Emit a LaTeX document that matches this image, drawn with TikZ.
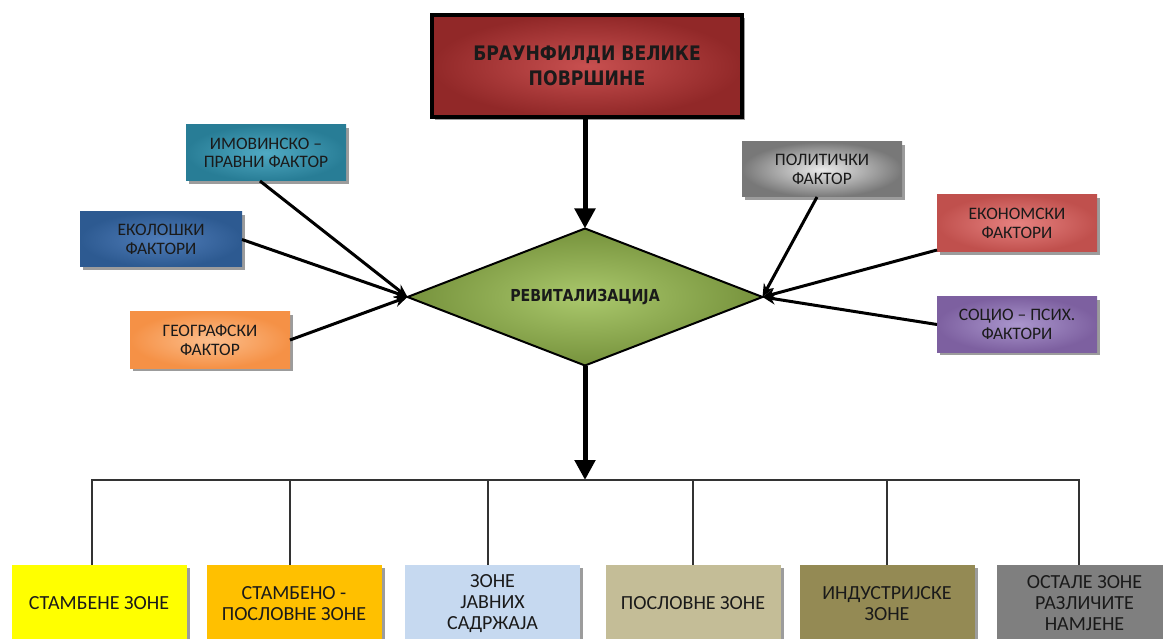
\documentclass[tikz,border=0pt]{standalone}
\usepackage{fontspec}
\setmainfont{Carlito}
\newfontfamily\hdfont[FakeStretch=0.86]{DejaVu Sans}
\usetikzlibrary{shapes.geometric,arrows.meta,shadows}
\definecolor{txt}{HTML}{1A1A1A}
\begin{document}
\begin{tikzpicture}[x=1pt,y=-1pt,
  shadowed/.style={drop shadow={shadow xshift=3pt,shadow yshift=-3pt,opacity=0.55,fill=black!70}},
  fbox/.style={rectangle,minimum width=160pt,minimum height=56pt,inner sep=0pt,outer sep=0pt,
    align=center,font=\fontsize{17.5}{18.5}\selectfont,text=txt,shading=radial,shadowed},
  zbox/.style={rectangle,minimum width=175pt,minimum height=77pt,inner sep=0pt,outer sep=0pt,
    align=center,font=\fontsize{20}{21}\selectfont,text=txt,shadowed},
  feed/.style={line width=3pt,-{Stealth[length=13pt,width=11pt]}},
  mainarrow/.style={line width=5pt,-{Triangle[length=20pt,width=20pt]}},
  bus/.style={line width=1.6pt,draw=black!80}
]
\useasboundingbox (0,0) rectangle (1163,639);
\clip (0,0) rectangle (1163,639);
\fill[white] (0,0) rectangle (1163,639);

% top box
\node[rectangle,minimum width=310pt,minimum height=102pt,inner sep=0pt,outer sep=0pt,
  draw=black,line width=4pt,shading=radial,inner color={rgb,255:red,200;green,80;blue,80},
  outer color={rgb,255:red,145;green,40;blue,40},shadowed,align=center,text=txt,
  font=\hdfont\bfseries\fontsize{20}{25}\selectfont] (top) at (587,66)
  {БРАУНФИЛДИ ВЕЛИКЕ\\ПОВРШИНЕ};

% diamond
\node[diamond,aspect=2.6,minimum width=355pt,minimum height=137pt,inner sep=0pt,outer sep=0pt,
  draw=black,line width=2pt,shading=radial,inner color={rgb,255:red,170;green,200;blue,108},
  outer color={rgb,255:red,118;green,146;blue,60},text=txt,
  font=\hdfont\bfseries\fontsize{16.5}{18}\selectfont] (rev) at (585,297) {РЕВИТАЛИЗАЦИЈА};

% factor boxes left
\node[fbox,inner color={rgb,255:red,80;green,170;blue,195},outer color={rgb,255:red,40;green,125;blue,150}]
  (imov) at (266,153) {ИМОВИНСКО –\\ПРАВНИ ФАКТОР};
\node[fbox,minimum width=162pt,minimum height=55pt,inner color={rgb,255:red,80;green,125;blue,185},outer color={rgb,255:red,45;green,90;blue,145}]
  (ekol) at (161,239.5) {ЕКОЛОШКИ\\ФАКТОРИ};
\node[fbox,inner color={rgb,255:red,252;green,190;blue,140},outer color={rgb,255:red,245;green,145;blue,70}]
  (geo) at (210,340) {ГЕОГРАФСКИ\\ФАКТОР};

% factor boxes right
\node[fbox,minimum height=55pt,inner color={rgb,255:red,235;green,235;blue,235},outer color={rgb,255:red,120;green,120;blue,120}]
  (pol) at (822,169.5) {ПОЛИТИЧКИ\\ФАКТОР};
\node[fbox,minimum height=57pt,inner color={rgb,255:red,230;green,130;blue,128},outer color={rgb,255:red,192;green,80;blue,77}]
  (ekon) at (1017,223.5) {ЕКОНОМСКИ\\ФАКТОРИ};
\node[fbox,minimum height=55pt,inner color={rgb,255:red,170;green,150;blue,205},outer color={rgb,255:red,125;green,96;blue,160}]
  (soc) at (1017,324.5) {СОЦИО – ПСИХ.\\ФАКТОРИ};

% bottom boxes
\node[zbox,fill={rgb,255:red,255;green,255;blue,0}] (b1) at (99,603.5) {СТАМБЕНЕ ЗОНЕ};
\node[zbox,fill={rgb,255:red,255;green,192;blue,0}] (b2) at (294,603.5) {СТАМБЕНО -\\ПОСЛОВНЕ ЗОНЕ};
\node[zbox,fill={rgb,255:red,198;green,217;blue,240}] (b3) at (492.5,603.5) {ЗОНЕ\\ЈАВНИХ\\САДРЖАЈА};
\node[zbox,fill={rgb,255:red,196;green,189;blue,151}] (b4) at (693,603.5) {ПОСЛОВНЕ ЗОНЕ};
\node[zbox,fill={rgb,255:red,148;green,138;blue,84}] (b5) at (887,603.5) {ИНДУСТРИЈСКЕ\\ЗОНЕ};
\node[zbox,fill={rgb,255:red,127;green,127;blue,127}] (b6) at (1084.5,603.5) {ОСТАЛЕ ЗОНЕ\\РАЗЛИЧИТЕ\\НАМЈЕНЕ};

% main arrows
\coordinate (bus) at (585,480);
\draw[mainarrow] (top.south -| rev.north) -- (rev.north);
\draw[mainarrow] (rev.south) -- (bus);

% bus lines
\draw[bus] (bus) -| ([xshift=-7pt]b1.north);
\draw[bus] (bus) -| ([xshift=-4pt]b2.north);
\draw[bus] (bus) -| ([xshift=-4.5pt]b3.north);
\draw[bus] (bus) -| (b4.north);
\draw[bus] (bus) -| (b5.north);
\draw[bus] (bus) -| ([xshift=-5.5pt]b6.north);

% feeders
\draw[feed] ([xshift=-6pt]imov.south) -- (rev.west);
\draw[feed] (ekol.east) -- (rev.west);
\draw[feed] (geo.east) -- (rev.west);
\draw[feed] ([xshift=-5pt]pol.south) -- (rev.east);
\draw[feed] ([yshift=2pt]ekon.south west) -- (rev.east);
\draw[feed] (soc.west) -- (rev.east);
\end{tikzpicture}
\end{document}
